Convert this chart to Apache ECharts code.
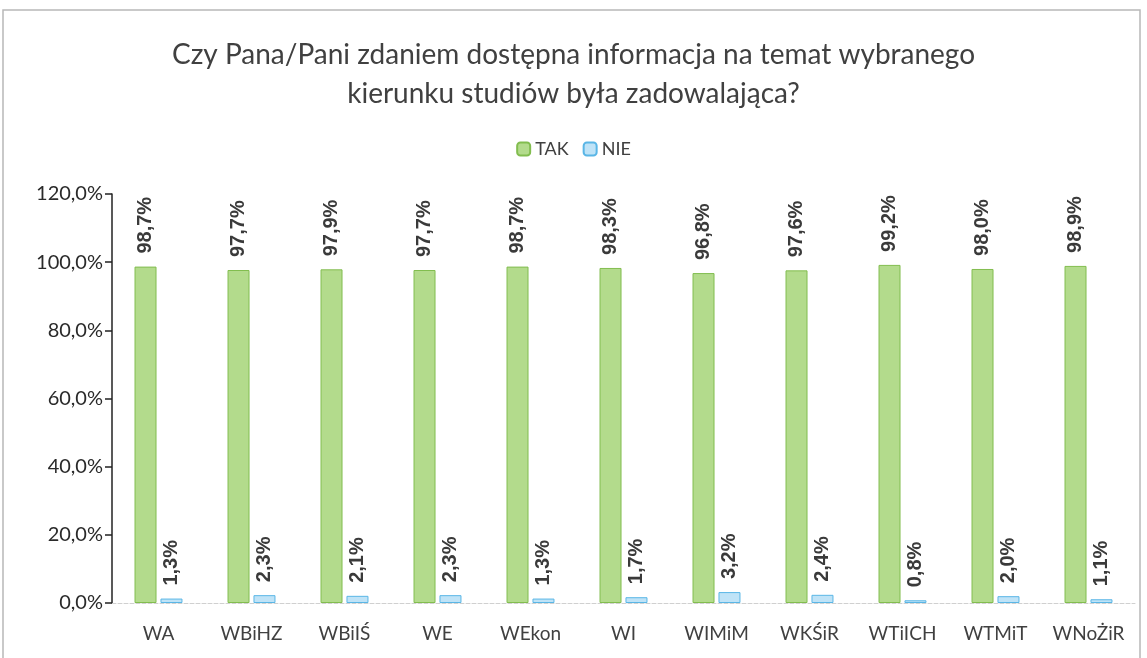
<!DOCTYPE html>
<html>
<head>
<meta charset="utf-8">
<script src="https://cdn.jsdelivr.net/npm/echarts@6/dist/echarts.min.js"></script>
<style>
  html, body { margin: 0; padding: 0; background: #ffffff; }
  #chart { width: 1147px; height: 658px; }
</style>
</head>
<body>
<div id="chart"></div>
<script>
// Faculties (categories) and the share of answers per faculty
const categories = ['WA', 'WBiHZ', 'WBiIŚ', 'WE', 'WEkon', 'WI', 'WIMiM', 'WKŚiR', 'WTiICH', 'WTMiT', 'WNoŻiR'];
const takValues = [98.7, 97.7, 97.9, 97.7, 98.7, 98.3, 96.8, 97.6, 99.2, 98.0, 98.9];
const nieValues = [1.3, 2.3, 2.1, 2.3, 1.3, 1.7, 3.2, 2.4, 0.8, 2.0, 1.1];
const seriesNames = ['TAK', 'NIE'];
const titleText = 'Czy Pana/Pani zdaniem dostępna informacja na temat wybranego\nkierunku studiów była zadowalająca?';

const pct = v => v.toFixed(1).replace('.', ',') + '%';

const chart = echarts.init(document.getElementById('chart'));

const labelStyle = {
  show: true,
  position: 'top',
  rotate: 90,
  align: 'left',
  verticalAlign: 'middle',
  distance: 13,
  fontFamily: 'Liberation Sans',
  fontWeight: 'bold',
  fontSize: 20,
  color: '#3a3a3a',
  formatter: p => pct(p.value)
};

chart.setOption({
  backgroundColor: '#ffffff',
  animation: false,
  graphic: [{
    type: 'rect',
    shape: { x: 3, y: 10, width: 1137, height: 660 },
    style: { fill: 'none', stroke: '#b8b8b8', lineWidth: 1.5 }
  }],
  title: {
    text: titleText,
    left: 'center',
    top: 30,
    textStyle: {
      fontFamily: 'Lato',
      fontWeight: 'normal',
      fontSize: 28,
      lineHeight: 39,
      color: '#404040'
    }
  },
  legend: {
    data: seriesNames,
    top: 135,
    left: 'center',
    itemWidth: 13,
    itemHeight: 13,
    itemGap: 14,
    textStyle: { fontFamily: 'Lato', fontSize: 18, color: '#404040' }
  },
  grid: { left: 112, right: 12, top: 194, bottom: 55 },
  xAxis: {
    type: 'category',
    data: categories,
    axisLine: { show: true, lineStyle: { color: '#d0d0d0', type: 'dashed', width: 1 } },
    axisTick: { show: false },
    axisLabel: { interval: 0, fontFamily: 'Lato', fontSize: 19, color: '#404040', margin: 21 }
  },
  yAxis: {
    type: 'value',
    min: 0,
    max: 120,
    interval: 20,
    axisLine: { show: true, lineStyle: { color: '#222222', width: 1.5 } },
    axisTick: { show: true, length: 7, lineStyle: { color: '#222222', width: 1.5 } },
    splitLine: { show: false },
    axisLabel: {
      fontFamily: 'Lato',
      fontSize: 20,
      color: '#2a2a2a',
      margin: 9,
      formatter: v => v.toFixed(1).replace('.', ',') + '%'
    }
  },
  series: [
    {
      name: seriesNames[0],
      type: 'bar',
      data: takValues,
      barWidth: 22,
      barGap: '18%',
      itemStyle: { color: '#b3db8c', borderColor: '#82bd4f', borderWidth: 1 },
      label: labelStyle
    },
    {
      name: seriesNames[1],
      type: 'bar',
      data: nieValues,
      barWidth: 22,
      itemStyle: { color: '#bfe3f7', borderColor: '#5ab6e6', borderWidth: 1 },
      label: labelStyle
    }
  ]
});
</script>
</body>
</html>
